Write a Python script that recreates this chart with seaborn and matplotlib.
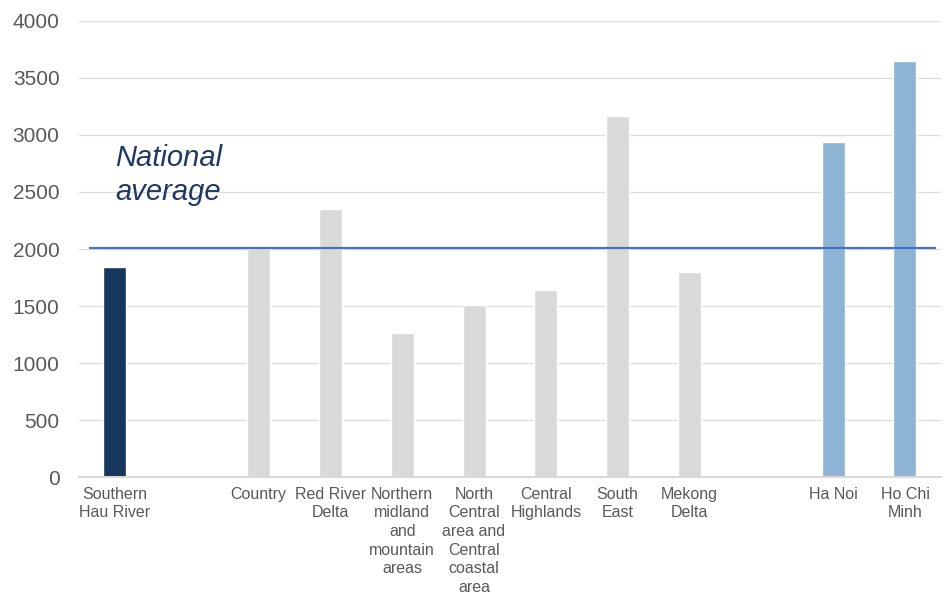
import matplotlib
matplotlib.use("Agg")
import matplotlib.pyplot as plt
import seaborn as sns
import pandas as pd

# Average income by region (thousand VND / month)
regions = ["Southern\nHau River", "Country", "Red River\nDelta",
           "Northern\nmidland\nand\nmountain\nareas",
           "North\nCentral\narea and\nCentral\ncoastal\narea",
           "Central\nHighlands", "South\nEast", "Mekong\nDelta",
           "Ha Noi", "Ho Chi\nMinh"]
values = [1840, 2005, 2350, 1262, 1507, 1642, 3168, 1797, 2940, 3650]
groups = ["focus", "region", "region", "region", "region", "region",
          "region", "region", "city", "city"]
national_average = 2005

# Slot order with empty gaps between the groups
slot_order = ["Southern\nHau River", "_gap1", "Country", "Red River\nDelta",
              "Northern\nmidland\nand\nmountain\nareas",
              "North\nCentral\narea and\nCentral\ncoastal\narea",
              "Central\nHighlands", "South\nEast", "Mekong\nDelta",
              "_gap2", "Ha Noi", "Ho Chi\nMinh"]

group_colors = {"focus": "#17365d", "region": "#d9d9d9", "city": "#8db3d5"}
palette = {r: group_colors[g] for r, g in zip(regions, groups)}

df = pd.DataFrame({"region": regions, "value": values})

sns.set_theme(style="white")
plt.rcParams["font.family"] = ["Liberation Sans", "DejaVu Sans"]

fig = plt.figure(figsize=(9.44, 5.93), dpi=100)
ax = fig.add_axes([0.0837, 0.1956, 0.913, 0.769])

sns.barplot(data=df, x="region", y="value", hue="region", order=slot_order,
            hue_order=regions, palette=palette, width=0.32, legend=False,
            saturation=1, dodge=False, ax=ax)

ax.set_xlim(-0.5, len(slot_order) - 0.5)
ax.set_ylim(0, 4000)
ax.set_yticks(range(0, 4001, 500))
ax.yaxis.grid(True, color="#dedede", linewidth=1.0)
ax.set_axisbelow(True)

ax.set_xticks(range(len(slot_order)))
ax.set_xticklabels(["" if s.startswith("_gap") else s for s in slot_order],
                   fontsize=11.5, color="#595959", linespacing=1.3,
                   multialignment="center")
ax.tick_params(axis="x", length=0, pad=7)
ax.tick_params(axis="y", length=0, pad=14, labelsize=15, labelcolor="#595959")
ax.set_xlabel("")
ax.set_ylabel("")

for side in ["top", "right", "left"]:
    ax.spines[side].set_visible(False)
ax.spines["bottom"].set_color("#d9d9d9")
ax.spines["bottom"].set_linewidth(1.5)

# National average reference line and label
ax.hlines(national_average, -0.36, 11.43, color="#4472c4", linewidth=1.6, zorder=5)
ax.text(0.0, 2920, "National\naverage", fontsize=21, style="italic",
        color="#1f3864", ha="left", va="top", linespacing=1.25)

fig.savefig("out.png", dpi=100)
